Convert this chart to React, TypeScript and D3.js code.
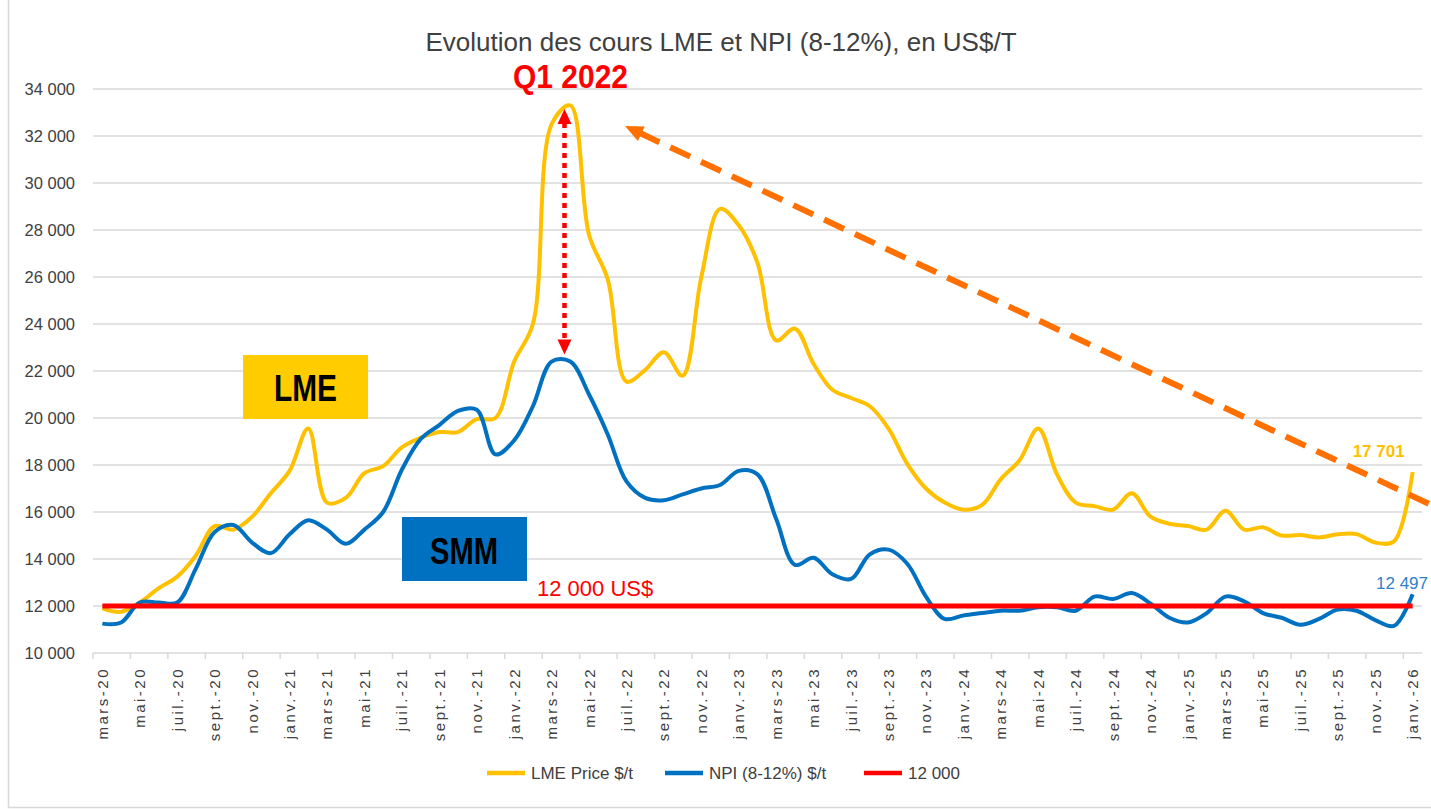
import { useEffect, useRef } from "react"
import * as d3 from "d3"

const MONTHS_FR = ["janv.", "févr.", "mars", "avr.", "mai", "juin", "juil.", "août", "sept.", "oct.", "nov.", "déc."]

// mars-20 ... janv.-26, one category per month
const categories: string[] = []
for (let k = 2; k <= 72; k++) {
  categories.push(`${MONTHS_FR[k % 12]}-${20 + Math.floor(k / 12)}`)
}

const lmePrice = [
  11900, 11750, 12150, 12750, 13250, 14150, 15400, 15250, 15800, 16800,
  17750, 19550, 16400, 16600, 17650, 17950, 18750, 19150, 19400, 19400,
  19950, 20000, 22400, 24000, 32500, 33300, 27800, 25900, 21550, 22050,
  22800, 21800, 26000, 28900, 28200, 26600, 23300, 23800, 22300, 21200,
  20850, 20500, 19550, 18050, 17000, 16400, 16100, 16300, 17400, 18200,
  19550, 17600, 16400, 16250, 16100, 16800, 15800, 15500, 15400, 15250,
  16050, 15250, 15350, 15000, 15020, 14920, 15050, 15060, 14700, 14750,
  17701,
]

const npiPrice = [
  11250, 11300, 12150, 12150, 12150, 13600, 15150, 15450, 14700, 14250,
  15050, 15650, 15250, 14650, 15250, 16000, 17800, 19100, 19700, 20300,
  20350, 18450, 19050, 20500, 22400, 22400, 21000, 19300, 17300, 16600,
  16500, 16750, 17000, 17150, 17750, 17600, 15700, 13750, 14050, 13350,
  13150, 14200, 14400, 13800, 12400, 11450, 11600, 11700, 11800, 11800,
  11950, 11950, 11800, 12400, 12300, 12550, 12100, 11500, 11300, 11700,
  12400, 12200, 11700, 11500, 11200, 11450, 11850, 11800, 11400, 11150,
  12497,
]

const threshold = 12000
const yTicks = [10000, 12000, 14000, 16000, 18000, 20000, 22000, 24000, 26000, 28000, 30000, 32000, 34000]

const legendItems = [
  { label: "LME Price $/t", color: "#FFC000" },
  { label: "NPI (8-12%)  $/t", color: "#0070C0" },
  { label: "12 000", color: "#FF0000" },
]

const FONT = "'Liberation Sans', Arial, sans-serif"
const fmt = (v: number) => d3.format(",")(v).replace(/,/g, " ")

export default function App() {
  const svgRef = useRef<SVGSVGElement>(null)

  useEffect(() => {
    if (!svgRef.current) return
    const svg = d3.select(svgRef.current)
    svg.selectAll("*").remove()

    const x = d3.scaleBand<string>().domain(categories).range([93, 1422]).padding(0)
    const y = d3.scaleLinear().domain([10000, 34000]).range([653, 89])
    const cx = (i: number) => (x(categories[i]) || 0) + x.bandwidth() / 2

    // frame
    svg.append("rect").attr("x", 8.5).attr("y", -5).attr("width", 1440).attr("height", 812.5)
      .attr("fill", "white").attr("stroke", "#d9d9d9").attr("stroke-width", 1.5)

    // title
    svg.append("text").attr("x", 721).attr("y", 51).attr("text-anchor", "middle")
      .attr("font-family", FONT).attr("font-size", 26).attr("fill", "#404040")
      .text("Evolution des cours LME et NPI (8-12%), en US$/T")

    // grid
    const g = svg.append("g")
    g.selectAll(".grid").data(yTicks).enter().append("line")
      .attr("x1", 93).attr("x2", 1422)
      .attr("y1", (d) => y(d)).attr("y2", (d) => y(d))
      .attr("stroke", "#d9d9d9").attr("stroke-width", 1.5)

    g.selectAll(".ylab").data(yTicks).enter().append("text")
      .attr("x", 75).attr("y", (d) => y(d)).attr("dy", "0.35em").attr("text-anchor", "end")
      .attr("font-family", FONT).attr("font-size", 16.5).attr("fill", "#404040")
      .text((d) => fmt(d))

    // x axis ticks + labels every 2 months
    const shown = categories.filter((_, i) => i % 2 === 0)
    g.selectAll(".xtick").data(shown).enter().append("line")
      .attr("x1", (d) => x(d) || 0).attr("x2", (d) => x(d) || 0)
      .attr("y1", 653).attr("y2", 659)
      .attr("stroke", "#d9d9d9").attr("stroke-width", 1.5)

    g.selectAll(".xlab").data(shown).enter().append("text")
      .attr("transform", (d) => `translate(${(x(d) || 0) + x.bandwidth() / 2 + 5.5},667) rotate(-90)`)
      .attr("text-anchor", "end")
      .attr("font-family", FONT).attr("font-size", 15).attr("letter-spacing", 2.5).attr("fill", "#404040")
      .text((d) => d)

    // series
    const line = d3.line<number>()
      .x((_, i) => cx(i))
      .y((d) => y(d))
      .curve(d3.curveCatmullRom.alpha(0.5))

    g.append("path").datum(lmePrice).attr("fill", "none").attr("stroke", "#FFC000")
      .attr("stroke-width", 4).attr("stroke-linejoin", "round").attr("d", line)
    g.append("path").datum(npiPrice).attr("fill", "none").attr("stroke", "#0070C0")
      .attr("stroke-width", 4).attr("stroke-linejoin", "round").attr("d", line)
    g.append("line")
      .attr("x1", cx(0)).attr("x2", cx(categories.length - 1))
      .attr("y1", y(threshold)).attr("y2", y(threshold))
      .attr("stroke", "#FF0000").attr("stroke-width", 5)

    // end labels
    const last = categories.length - 1
    g.append("text").attr("x", cx(last) - 8).attr("y", y(lmePrice[last]) - 15).attr("text-anchor", "end")
      .attr("font-family", FONT).attr("font-size", 17).attr("font-weight", "bold").attr("fill", "#FFC000")
      .text(fmt(lmePrice[last]))
    g.append("text").attr("x", 1428).attr("y", y(npiPrice[last]) - 5).attr("text-anchor", "end")
      .attr("font-family", FONT).attr("font-size", 17).attr("fill", "#2F80C9")
      .text(fmt(npiPrice[last]))

    // threshold label
    g.append("text").attr("x", 537).attr("y", 596)
      .attr("font-family", FONT).attr("font-size", 22).attr("fill", "#FF0000")
      .text("12 000 US$")

    // LME / SMM tags
    g.append("rect").attr("x", 243).attr("y", 355).attr("width", 125).attr("height", 64).attr("fill", "#FFCC00")
    g.append("text").attr("x", 274).attr("y", 401).attr("textLength", 63).attr("lengthAdjust", "spacingAndGlyphs")
      .attr("font-family", FONT).attr("font-size", 36).attr("font-weight", "bold").attr("fill", "#000")
      .text("LME")
    g.append("rect").attr("x", 402).attr("y", 517).attr("width", 125).attr("height", 64).attr("fill", "#0070C0")
    g.append("text").attr("x", 430).attr("y", 564).attr("textLength", 68).attr("lengthAdjust", "spacingAndGlyphs")
      .attr("font-family", FONT).attr("font-size", 36).attr("font-weight", "bold").attr("fill", "#000")
      .text("SMM")

    // Q1 2022 marker
    g.append("text").attr("x", 513).attr("y", 88).attr("textLength", 115).attr("lengthAdjust", "spacingAndGlyphs")
      .attr("font-family", FONT).attr("font-size", 34).attr("font-weight", "bold").attr("fill", "#FF0000")
      .text("Q1 2022")

    const ax = 564.5
    const yTop = y(33150)
    const yBot = y(22700)
    g.append("line").attr("x1", ax).attr("x2", ax).attr("y1", yTop + 14).attr("y2", yBot - 14)
      .attr("stroke", "#FF0000").attr("stroke-width", 4.5).attr("stroke-dasharray", "5 5")
    g.append("path").attr("d", `M${ax},${yTop} L${ax - 7},${yTop + 15} L${ax + 7},${yTop + 15} Z`).attr("fill", "#FF0000")
    g.append("path").attr("d", `M${ax},${yBot} L${ax - 7},${yBot - 15} L${ax + 7},${yBot - 15} Z`).attr("fill", "#FF0000")

    // trend arrow
    const tip: [number, number] = [625, 126]
    const slope = 0.47
    const endX = 1445
    const ang = Math.atan(slope)
    const ux = Math.cos(ang)
    const uy = Math.sin(ang)
    g.append("line")
      .attr("x1", tip[0] + ux * 16).attr("y1", tip[1] + uy * 16)
      .attr("x2", endX).attr("y2", tip[1] + slope * (endX - tip[0]))
      .attr("stroke", "#FF7000").attr("stroke-width", 6).attr("stroke-dasharray", "22 12")
    const bx = tip[0] + ux * 18
    const by = tip[1] + uy * 18
    g.append("path")
      .attr("d", `M${tip[0]},${tip[1]} L${bx - uy * 8},${by + ux * 8} L${bx + uy * 8},${by - ux * 8} Z`)
      .attr("fill", "#FF7000")

    // legend
    const lg = svg.append("g").attr("transform", "translate(0,773)")
    const legendX = [487, 665, 864]
    legendItems.forEach((item, i) => {
      lg.append("line").attr("x1", legendX[i]).attr("x2", legendX[i] + 38).attr("y1", 0).attr("y2", 0)
        .attr("stroke", item.color).attr("stroke-width", 4.5)
      lg.append("text").attr("x", legendX[i] + 44).attr("y", 0).attr("dy", "0.35em")
        .attr("font-family", FONT).attr("font-size", 17).attr("fill", "#404040")
        .text(item.label)
    })
  }, [])

  return (
    <div style={{ position: "fixed", left: 0, top: 0 }}>
      <svg ref={svgRef} width={1431} height={809} style={{ display: "block" }} />
    </div>
  )
}
